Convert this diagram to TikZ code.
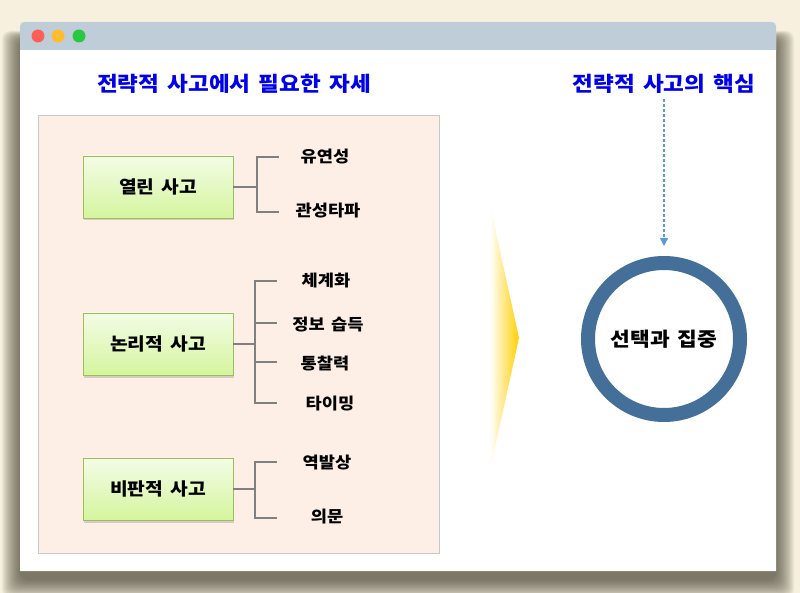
\documentclass[tikz,border=0pt]{standalone}
\usepackage{fontspec}
\setmainfont{Noto Sans CJK KR}[FakeStretch=1.1, WordSpace=1.6]
\usetikzlibrary{arrows.meta,fadings,shadows}
\definecolor{bgcream}{RGB}{247,240,222}
\definecolor{barblue}{RGB}{191,205,217}
\definecolor{dotred}{RGB}{255,95,87}
\definecolor{dotyellow}{RGB}{254,188,46}
\definecolor{dotgreen}{RGB}{40,200,64}
\definecolor{titleblue}{RGB}{0,0,235}
\definecolor{panelpink}{RGB}{253,239,230}
\definecolor{panelline}{RGB}{200,200,200}
\definecolor{boxtop}{RGB}{243,252,230}
\definecolor{boxbot}{RGB}{213,245,158}
\definecolor{boxline}{RGB}{155,190,90}
\definecolor{connline}{RGB}{128,128,128}
\definecolor{ringblue}{RGB}{67,111,153}
\definecolor{arrowblue}{RGB}{91,155,213}
\definecolor{chevyellow}{RGB}{255,208,0}
\definecolor{shadowcol}{RGB}{70,66,50}
\tikzfading[name=fadeleft, left color=transparent!100, right color=transparent!0]
\begin{document}
\begin{tikzpicture}[x=1pt,y=-1pt,
  titletext/.style={font=\fontsize{20.5}{25}\selectfont\bfseries, text=titleblue, inner sep=2pt},
  gbox/.style={draw=boxline, line width=0.8pt, top color=boxtop, bottom color=boxbot,
    minimum width=150pt, minimum height=62pt, inner sep=0pt,
    font=\fontsize{17.5}{21}\selectfont\bfseries,
    drop shadow={shadow xshift=1pt, shadow yshift=-2.5pt, opacity=0.25, fill=black!60}},
  lbl/.style={font=\fontsize{16}{20}\selectfont\bfseries, inner sep=1pt},
  conn/.style={draw=connline, line width=1.1pt},
  dasharrow/.style={draw=arrowblue, line width=1.2pt, dash pattern=on 3pt off 2pt,
    -{Triangle[width=8pt,length=8pt]}}
]
\useasboundingbox (0,0) rectangle (800,593);
\fill[bgcream] (0,0) rectangle (800,593);
% window shadow
\foreach \i in {0,...,18}{
  \fill[shadowcol, opacity=0.055, rounded corners=8]
    (20-\i,40-0.5*\i) rectangle (776+\i,580+\i);
}
% window
\fill[white] (20,571) -- (20,34) [rounded corners=4] -- (20,22) -- (776,22) [sharp corners] -- (776,34) -- (776,571) -- cycle;
\fill[barblue] (20,50) -- (20,34) [rounded corners=4] -- (20,22) -- (776,22) [sharp corners] -- (776,34) -- (776,50) -- cycle;
\fill[dotred] (38,36) circle (6.5);
\fill[dotyellow] (58,36) circle (6.5);
\fill[dotgreen] (79,36) circle (6.5);
% titles
\node[titletext] (t1) at (234,84) {전략적 사고에서 필요한 자세};
\node[titletext] (t2) at (664,84) {전략적 사고의 핵심};
% panel
\draw[draw=panelline, fill=panelpink, line width=0.8pt] (38,115) rectangle (439,553);
% boxes
\node[gbox] (b1) at (158,187) {열린 사고};
\node[gbox] (b2) at (158,344) {논리적 사고};
\node[gbox] (b3) at (158,489) {비판적 사고};
% labels
\node[lbl] (l11) at (325,157) {유연성};
\node[lbl] (l12) at (328,211) {관성타파};
\node[lbl] (l21) at (326,281) {체계화};
\node[lbl] (l22) at (328,325) {정보 습득};
\node[lbl] (l23) at (325,363) {통찰력};
\node[lbl] (l24) at (330,404) {타이밍};
\node[lbl] (l31) at (327,463) {역발상};
\node[lbl] (l32) at (327,517) {의문};
% branch ends
\coordinate (e11) at (279,157);
\coordinate (e12) at (279,212);
\coordinate (e21) at (277,281);
\coordinate (e22) at (277,323);
\coordinate (e23) at (277,362);
\coordinate (e24) at (277,403);
\coordinate (e31) at (277,462);
\coordinate (e32) at (277,518);
% connectors
\draw[conn] (b1.east) -- (257,187);
\draw[conn] (e11) -| (257,187) |- (e12);
\draw[conn] (b2.east) -- (255,344);
\draw[conn] (e21) -| (255,344) |- (e24);
\draw[conn] (255,323) -- (e22);
\draw[conn] (255,362) -- (e23);
\draw[conn] (b3.east) -- (255,489);
\draw[conn] (e31) -| (255,489) |- (e32);
% chevron
\fill[chevyellow, path fading=fadeleft] (490,205) -- (519,338) -- (490,470) -- cycle;
% ring
\node[circle, draw=ringblue, line width=14pt, minimum size=152pt, inner sep=0pt,
  font=\fontsize{19.5}{24}\selectfont\bfseries] (ring) at (664,339) {선택과 집중};
\draw[dasharrow, shorten <=3pt, shorten >=10pt] (t2.south) -- (ring.north);
\end{tikzpicture}
\end{document}
